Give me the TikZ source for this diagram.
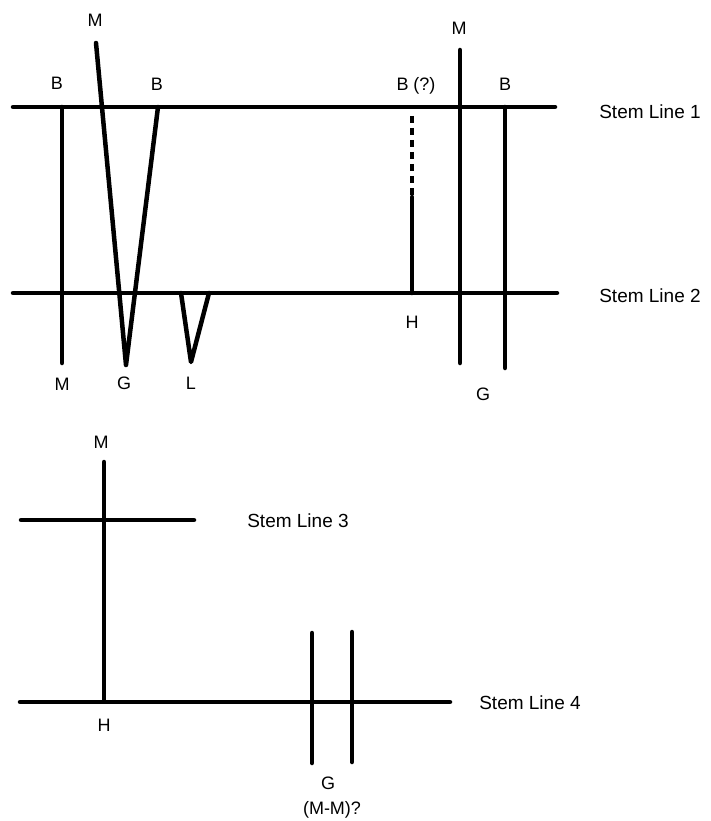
\documentclass[tikz,border=0pt]{standalone}
\usepackage{fontspec}
\setmainfont{Liberation Sans}
\usetikzlibrary{positioning}
\tikzset{
  stem/.style={line width=4.5pt, line cap=round, line join=round},
  lbl/.style={font=\fontsize{18}{20}\selectfont, inner sep=0pt},
  stemtext/.style={font=\fontsize{19}{21}\selectfont, inner sep=0pt}
}

\begin{document}
\begin{tikzpicture}[x=1pt, y=-1pt]
  \useasboundingbox (0,0) rectangle (711,821);
  % Stem lines 1 and 2
  \draw[stem] (13,107) -- (555,107);
  \node[stemtext] (sl1) at (650,112) {Stem Line 1};
  \draw[stem] (13,293) -- (557,293);
  \node[stemtext] (sl2) at (650,296) {Stem Line 2};
  % B -- M
  \draw[stem] (62,107) -- (62,363);
  \node[lbl] (b1) at (57,83) {B};
  \node[lbl] (m1) at (62,384) {M};
  % M -- G -- B
  \draw[stem] (96,43) -- (126,365) -- (158,107);
  \node[lbl] (m2) at (95,20) {M};
  \node[lbl] (b2) at (157,84) {B};
  \node[lbl] (g1) at (124,383) {G};
  % L
  \draw[stem] (181,293) -- (191,362) -- (209,293);
  \node[lbl] (l1) at (191,383) {L};
  % B (?) -- H
  \draw[stem, line cap=butt, dash pattern=on 7pt off 5pt] (412,116) -- (412,197);
  \draw[stem] (412,197) -- (412,293);
  \node[lbl] (bq) at (416,86) {B (?)};
  \node[lbl] (h1) at (412,322) {H};
  % M and B through both lines
  \draw[stem] (460,50) -- (460,363);
  \node[lbl] (m3) at (459,28) {M};
  \draw[stem] (505,107) -- (505,368);
  \node[lbl] (b3) at (505,84) {B};
  \node[lbl] (g2) at (483,394) {G};
  % Stem lines 3 and 4
  \draw[stem] (21,520) -- (194,520);
  \node[stemtext] (sl3) at (298,521) {Stem Line 3};
  \draw[stem] (20,702) -- (450,702);
  \node[stemtext] (sl4) at (530,703) {Stem Line 4};
  % M -- H
  \draw[stem] (104,462) -- (104,700);
  \node[lbl] (m4) at (101,442) {M};
  \node[lbl] (h2) at (104,725) {H};
  % G pair
  \draw[stem] (312,633) -- (312,763);
  \draw[stem] (352,632) -- (352,762);
  \node[lbl] (g3) at (328,783) {G};
  \node[lbl] (mm) at (332,810) {(M-M)?};
\end{tikzpicture}
\end{document}
